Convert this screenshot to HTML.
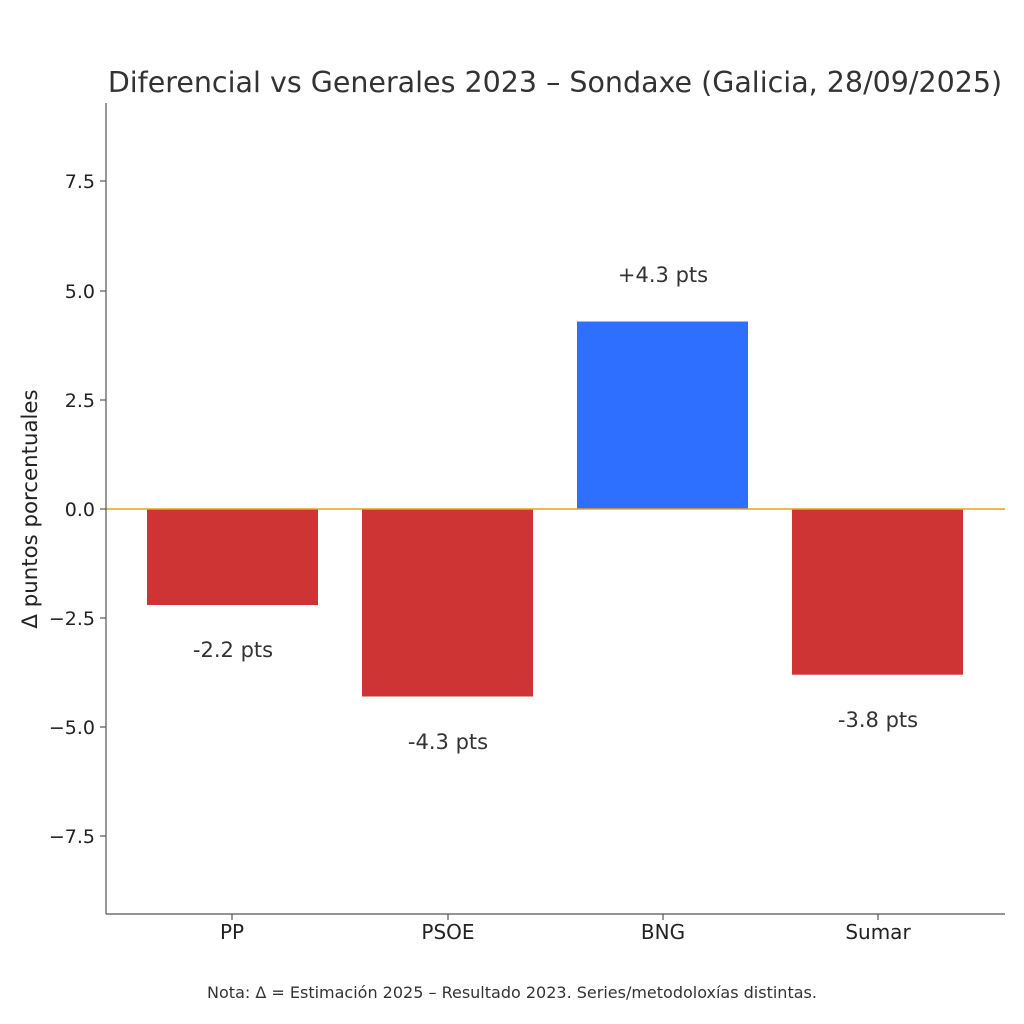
<!DOCTYPE html>
<html><head><meta charset="utf-8"><style>
body{margin:0;background:#fff}
svg{display:block;font-family:"DejaVu Sans","Liberation Sans",sans-serif}
</style></head><body>
<svg width="1024" height="1024" viewBox="0 0 1024 1024">
<rect width="1024" height="1024" fill="#fff"/>
<text x="555" y="92" font-size="28.5" fill="#333" text-anchor="middle">Diferencial vs Generales 2023 – Sondaxe (Galicia, 28/09/2025)</text>
<rect x="147" y="509" width="171" height="96" fill="#cf3434"/>
<rect x="362" y="509" width="171" height="187.5" fill="#cf3434"/>
<rect x="577" y="321.5" width="171" height="187.5" fill="#2f6fff"/>
<rect x="792" y="509" width="171" height="165.7" fill="#cf3434"/>
<line x1="106" y1="509" x2="1005" y2="509" stroke="#e8a317" stroke-width="1.6"/>
<g stroke="#555" stroke-width="1.2" fill="none">
<line x1="106" y1="103" x2="106" y2="914"/>
<line x1="106" y1="914" x2="1005" y2="914"/>
<line x1="100" y1="181" x2="106" y2="181"/><line x1="100" y1="291" x2="106" y2="291"/>
<line x1="100" y1="400" x2="106" y2="400"/><line x1="100" y1="509" x2="106" y2="509"/>
<line x1="100" y1="618" x2="106" y2="618"/><line x1="100" y1="727" x2="106" y2="727"/>
<line x1="100" y1="836" x2="106" y2="836"/>
<line x1="232" y1="914" x2="232" y2="920"/><line x1="448" y1="914" x2="448" y2="920"/>
<line x1="663" y1="914" x2="663" y2="920"/><line x1="878" y1="914" x2="878" y2="920"/>
</g>
<g font-size="19" fill="#222" text-anchor="end">
<text x="95" y="188">7.5</text><text x="95" y="298">5.0</text><text x="95" y="407">2.5</text>
<text x="95" y="516">0.0</text><text x="95" y="625">−2.5</text><text x="95" y="734">−5.0</text>
<text x="95" y="843">−7.5</text>
</g>
<g font-size="20" fill="#222" text-anchor="middle">
<text x="232" y="939">PP</text><text x="448" y="939">PSOE</text><text x="663" y="939">BNG</text><text x="878" y="939">Sumar</text>
</g>
<g font-size="21" fill="#333" text-anchor="middle">
<text x="233" y="657">-2.2 pts</text><text x="448" y="749">-4.3 pts</text>
<text x="663" y="282">+4.3 pts</text><text x="878" y="727">-3.8 pts</text>
</g>
<text transform="translate(37,509) rotate(-90)" font-size="21.3" fill="#222" text-anchor="middle">Δ puntos porcentuales</text>
<text x="512" y="998" font-size="16" fill="#333" text-anchor="middle">Nota: Δ = Estimación 2025 – Resultado 2023. Series/metodoloxías distintas.</text>
</svg>
</body></html>
